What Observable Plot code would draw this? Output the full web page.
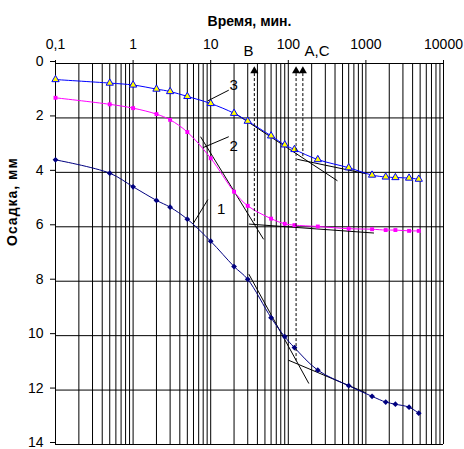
<!DOCTYPE html>
<html><head><meta charset="utf-8">
<script src="https://cdn.jsdelivr.net/npm/d3@7"></script>
<script src="https://cdn.jsdelivr.net/npm/@observablehq/plot@0.6"></script>
<style>body{margin:0;background:#fff}</style>
</head><body><div id="chart"></div>
<script>
// Time, minutes
const times = [0.1,0.5,1,2,3,5,10,20,30,60,90,120,240,600,1200,1800,2400,3600,4800];
// Settlement, mm
const series1 = [3.54,4.03,4.53,5.03,5.28,5.72,6.53,7.46,7.93,9.34,10.04,10.44,11.27,11.84,12.23,12.44,12.52,12.63,12.85];
const series2 = [1.26,1.50,1.64,1.86,2.07,2.52,3.48,4.71,5.23,5.70,5.89,5.94,5.99,6.07,6.09,6.12,6.12,6.15,6.15];
const series3 = [0.59,0.72,0.79,0.94,1.03,1.21,1.47,1.83,2.12,2.66,2.99,3.16,3.53,3.83,4.10,4.17,4.19,4.21,4.25];

// tangent lines [t1,d1,t2,d2]
const tangents = [
  [20,1.81,430,4.31],[130,3.52,1000,4.05],
  [7.4,2.69,48,6.46],[31,5.90,1270,6.23],
  [31,7.74,184,11.76],[100,10.90,1000,12.10]
];
// dashed arrows: time, settlement at bottom end
const arrowT = [36.5,126,154];
const arrowD = [5.90,10.93,3.45];
// curve labels
const curveLabels = ["1","2","3"];
const labelT = [13.6,19.7,19.7];
const labelD = [5.35,3.03,0.79];
const leaders = [[5.96,5.88,9.2,5.0],[8.0,3.09,17.1,2.69],[9.2,1.37,17.1,0.98]];
const topLabels = ["B","A,C"];
const topLabelT = [30.7,235];
const topLabelD = [-0.47,-0.47];

const xTicks = [0.1,1,10,100,1000,10000];
const xTickLabels = ["0,1","1","10","100","1000","10000"];
const yTicks = [0,2,4,6,8,10,12,14];

const decades = [0.1,1,10,100,1000];
const gridX = decades.flatMap(d => [1,2,3,4,5,6,7,8,9].map(k => k*d)).concat([10000]);

const mk = s => times.map((t,i) => ({t, d: s[i]}));
const d1 = mk(series1), d2 = mk(series2), d3s = mk(series3);
const tan = tangents.map(([t1,y1,t2,y2]) => ({t1,y1,t2,y2}));
const arr = arrowT.map((t,i) => ({t, d: arrowD[i]}));
const lab = curveLabels.map((s,i) => ({s, t: labelT[i], d: labelD[i]}));
const lead = leaders.map(([t1,y1,t2,y2]) => ({t1,y1,t2,y2}));
const tlab = topLabels.map((s,i) => ({s, t: topLabelT[i], d: topLabelD[i]}));

const chart = Plot.plot({
  width: 464, height: 449,
  marginLeft: 55, marginRight: 21, marginTop: 63, marginBottom: 5,
  style: {fontFamily: "Arial, 'Liberation Sans', sans-serif", fontSize: "14px", color: "#000", background: "#fff", overflow: "visible"},
  x: {type: "log", domain: [0.1, 10000], axis: null},
  y: {domain: [0, 14], reverse: true, axis: null},
  marks: [
    Plot.ruleX(gridX, {stroke: "#000", strokeWidth: 1}),
    Plot.ruleY(yTicks, {stroke: "#000", strokeWidth: 1}),
    Plot.axisX({anchor: "top", ticks: xTicks, tickFormat: d => xTickLabels[xTicks.indexOf(d)], tickSize: 4, tickPadding: 11, label: null, fontSize: 14}),
    Plot.axisY({anchor: "left", ticks: yTicks, tickSize: 5, tickPadding: 7, label: null, fontSize: 14, dy: -2}),
    Plot.link(tan, {x1: "t1", y1: "y1", x2: "t2", y2: "y2", stroke: "#000", strokeWidth: 1}),
    Plot.line(d3s, {x: "t", y: "d", stroke: "#0000ff", strokeWidth: 1, curve: "catmull-rom"}),
    Plot.line(d2, {x: "t", y: "d", stroke: "#ff00ff", strokeWidth: 1, curve: "catmull-rom"}),
    Plot.line(d1, {x: "t", y: "d", stroke: "#000080", strokeWidth: 1, curve: "catmull-rom"}),
    Plot.dot(d1, {x: "t", y: "d", symbol: "diamond2", r: 2.6, fill: "#000080", stroke: "none"}),
    Plot.dot(d2, {x: "t", y: "d", symbol: "square", r: 2.2, fill: "#ff00ff", stroke: "none"}),
    Plot.dot(d3s, {x: "t", y: "d", symbol: "triangle", r: 2.7, fill: "#ffff00", stroke: "#0000ff", strokeWidth: 1}),
    Plot.ruleX(arr, {x: "t", y1: 0.37, y2: "d", stroke: "#000", strokeDasharray: "3,2", strokeWidth: 1}),
    Plot.dot(arr, {x: "t", y: 0.27, symbol: "triangle", r: 3, fill: "#000", stroke: "none"}),
    Plot.link(lead, {x1: "t1", y1: "y1", x2: "t2", y2: "y2", stroke: "#000", strokeWidth: 1}),
    Plot.text(lab, {x: "t", y: "d", text: "s", fontSize: 15}),
    Plot.text(tlab, {x: "t", y: "d", text: "s", fontSize: 15}),
    Plot.text(["Время, мин."], {frameAnchor: "top", dy: -47, fontWeight: "bold", fontSize: 14}),
    Plot.text(["Осадка, мм"], {frameAnchor: "left", dx: -43, dy: -8, rotate: -90, fontWeight: "bold", fontSize: 14})
  ]
});
document.getElementById("chart").appendChild(chart);
d3.select(chart).selectAll("text").filter(function(){return this.textContent === "Осадка, мм";}).style("letter-spacing", "1px");
</script>
</body></html>
